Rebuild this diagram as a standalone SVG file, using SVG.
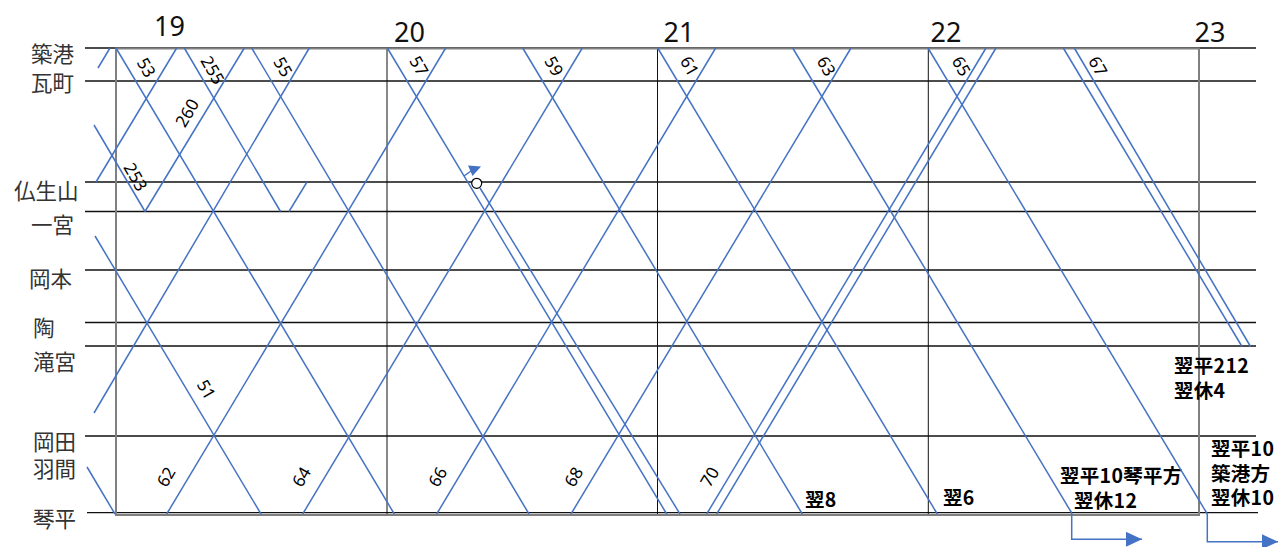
<svg xmlns="http://www.w3.org/2000/svg" width="1278" height="547" viewBox="0 0 1278 547">
<style>
.st{font-family:"Noto Sans CJK JP","Noto Sans CJK SC",sans-serif;font-size:21.5px;fill:#333}
.hr{font-family:"Noto Sans","Liberation Sans",sans-serif;font-size:27px;fill:#111;text-anchor:middle}
.h{stroke:#111;stroke-width:1.3}
.v{stroke:#111;stroke-width:1}
.tr{stroke:#4472C4;stroke-width:1.5;fill:none}
.num{font-family:"Noto Sans","Liberation Sans",sans-serif;font-size:17px;fill:#000;text-anchor:middle;dominant-baseline:central}
.note{font-family:"Noto Sans CJK JP","Noto Sans CJK SC",sans-serif;font-size:19.5px;letter-spacing:0.3px;font-weight:bold;fill:#000}
</style>
<defs>
<marker id="ah" markerUnits="userSpaceOnUse" markerWidth="17" markerHeight="15" refX="16" refY="7.5" orient="auto" viewBox="0 0 17 15">
<path d="M0,0 L16,7.5 L0,15 Z" fill="#4472C4"/>
</marker>
</defs>
<rect width="1278" height="547" fill="#fff"/>
<g id="grid">
<line class="h" x1="85" y1="48" x2="1256" y2="48"/>
<line class="h" x1="85" y1="81" x2="1256" y2="81"/>
<line class="h" x1="85" y1="182" x2="1256" y2="182"/>
<line class="h" x1="85" y1="211.5" x2="1256" y2="211.5"/>
<line class="h" x1="85" y1="270" x2="1256" y2="270"/>
<line class="h" x1="85" y1="322.5" x2="1256" y2="322.5"/>
<line class="h" x1="85" y1="346" x2="1256" y2="346"/>
<line class="h" x1="85" y1="436" x2="1256" y2="436"/>
<line class="h" x1="87" y1="512.7" x2="1258" y2="512.7"/>
<line class="v" x1="387" y1="48" x2="387" y2="515"/>
<line class="v" x1="657.5" y1="48" x2="657.5" y2="515"/>
<line class="v" x1="928.3" y1="48" x2="928.3" y2="515"/>
<rect x="116" y="48.5" width="1083" height="466.5" fill="none" stroke="#808080" stroke-width="2"/>
</g>
<g id="stations">
<text class="st" x="31" y="61.5">築港</text>
<text class="st" x="31" y="90.5">瓦町</text>
<text class="st" x="14" y="198.5">仏生山</text>
<text class="st" x="31" y="233">一宮</text>
<text class="st" x="29" y="286.5">岡本</text>
<text class="st" x="33" y="335.5">陶</text>
<text class="st" x="33" y="369.5">滝宮</text>
<text class="st" x="33" y="449.5">岡田</text>
<text class="st" x="33" y="476.5">羽間</text>
<text class="st" x="33" y="526.5">琴平</text>
</g>
<g id="hours">
<text class="hr" x="169.5" y="36">19</text>
<text class="hr" x="409.5" y="42">20</text>
<text class="hr" x="679" y="42">21</text>
<text class="hr" x="946" y="42">22</text>
<text class="hr" x="1210" y="42">23</text>
</g>
<g id="connectors">
<g id="down-51"><path class="tr" d="M95,236 L261,514"/><text class="num" transform="translate(206.7,389.3) rotate(60)">51</text></g>
<g id="down-prev"><path class="tr" d="M87,467 L115,514"/></g>
<g id="down-253"><path class="tr" d="M94,125 L145,211.5"/><text class="num" transform="translate(136,176.7) rotate(60)">253</text></g>
<g id="down-53"><path class="tr" d="M116,48 L394.3,514"/><text class="num" transform="translate(146.7,67.3) rotate(60)">53</text></g>
<g id="down-255"><path class="tr" d="M184.3,48 L280.5,211.5"/><text class="num" transform="translate(213,70) rotate(60)">255</text></g>
<g id="down-55"><path class="tr" d="M251.7,48 L529,514"/><text class="num" transform="translate(283.3,66.7) rotate(60)">55</text></g>
<g id="down-57"><path class="tr" d="M387.3,48 L666.7,514"/><text class="num" transform="translate(419.3,65.7) rotate(60)">57</text></g>
<g id="down-57b"><path class="tr" d="M480,188 L680,514"/>
<circle cx="476.7" cy="183.3" r="5" fill="#fff" stroke="#000" stroke-width="1.2"/>
<path class="tr" d="M464,176 L471,171"/><polygon points="468,165.5 481,166.5 472.5,176" fill="#4472C4"/></g>
<g id="down-59"><path class="tr" d="M522.7,48 L802.3,514"/><text class="num" transform="translate(554.3,66) rotate(60)">59</text><text class="note" x="805" y="506.5">翌8</text></g>
<g id="down-61"><path class="tr" d="M657.7,48 L937.3,514"/><text class="num" transform="translate(690,66) rotate(60)">61</text><text class="note" x="943" y="504.5">翌6</text></g>
<g id="down-63"><path class="tr" d="M792.7,48 L1071.7,513"/><path class="tr" d="M1071.7,513 L1071.7,539.3 L1142,539.3" marker-end="url(#ah)"/><text class="num" transform="translate(826.7,66) rotate(60)">63</text>
<text class="note" x="1060" y="482.5">翌平10琴平方</text><text class="note" x="1074" y="507.5">翌休12</text></g>
<g id="down-65"><path class="tr" d="M928,48 L1207.3,514"/><path class="tr" d="M1207.3,514 L1207.3,541.7 L1278,541.7" marker-end="url(#ah)"/><text class="num" transform="translate(961.7,66) rotate(60)">65</text>
<text class="note" x="1211" y="455.5">翌平10</text><text class="note" x="1211" y="480.5">築港方</text><text class="note" x="1211" y="504.5">翌休10</text></g>
<g id="down-67"><path class="tr" d="M1063.3,48 L1242,346.5"/><path class="tr" d="M1074.3,48 L1250.5,346.5"/><text class="num" transform="translate(1098.3,66) rotate(60)">67</text>
<text class="note" x="1174" y="372.5">翌平212</text><text class="note" x="1174" y="397.5">翌休4</text></g>
<g id="up-a"><path class="tr" d="M98,68 L110,48"/></g>
<g id="up-b"><path class="tr" d="M96,182 L176.7,48"/></g>
<g id="up-c"><path class="tr" d="M94,413 L309.3,48"/></g>
<g id="up-260"><path class="tr" d="M145,211.5 L244.3,48"/><text class="num" transform="translate(186.7,112.7) rotate(-60)">260</text></g>
<g id="up-depot"><path class="tr" d="M289,211.5 L307,182"/></g>
<g id="up-62"><path class="tr" d="M166.7,514 L445.7,48"/><text class="num" transform="translate(165.7,476.7) rotate(-60)">62</text></g>
<g id="up-64"><path class="tr" d="M302.7,514 L582.3,48"/><text class="num" transform="translate(301,476.7) rotate(-60)">64</text></g>
<g id="up-66"><path class="tr" d="M436.7,514 L715.7,48"/><text class="num" transform="translate(437.3,476.7) rotate(-60)">66</text></g>
<g id="up-68"><path class="tr" d="M571,514 L851,48"/><text class="num" transform="translate(573.3,476.7) rotate(-60)">68</text></g>
<g id="up-70"><path class="tr" d="M706.7,514 L986,48"/><path class="tr" d="M716.7,514 L996,48"/><text class="num" transform="translate(709.3,476.7) rotate(-60)">70</text></g>
</g>
</svg>
